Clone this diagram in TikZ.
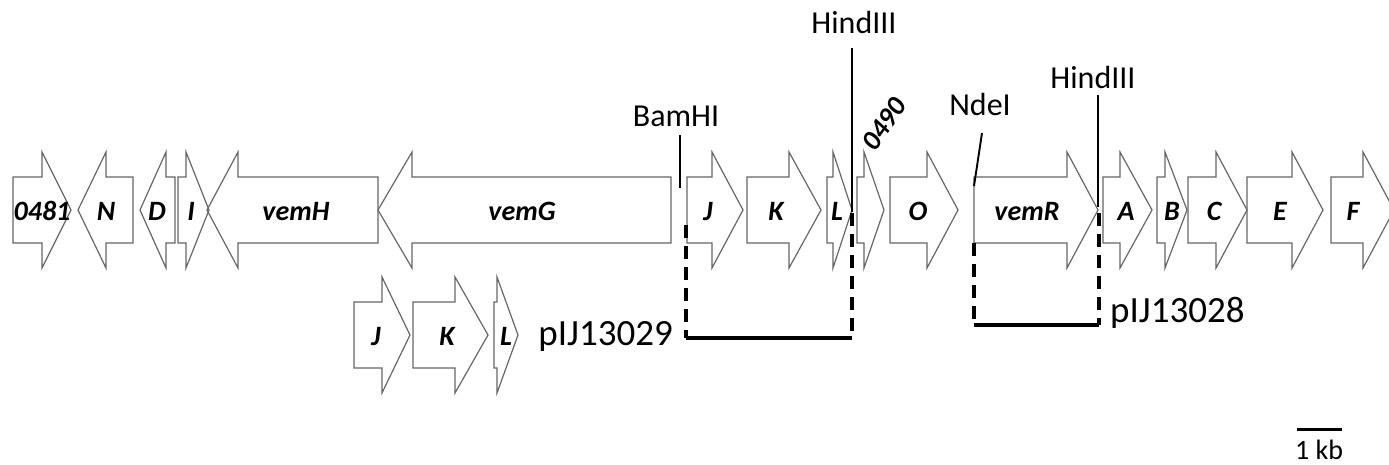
\documentclass[tikz,border=0pt]{standalone}
\usepackage{fontspec}
\setmainfont{Carlito}
\tikzset{
  gene/.style={draw=black!60, line width=1.2pt, line join=miter},
  glabel/.style={font=\fontsize{28}{30}\selectfont\bfseries\itshape, anchor=base, inner sep=0pt},
  site/.style={font=\fontsize{32}{34}\selectfont, anchor=base, inner sep=0pt},
  plabel/.style={font=\fontsize{37}{40}\selectfont, anchor=base, inner sep=0pt},
  cutline/.style={line width=1.9pt},
  frag/.style={line width=3.2pt},
  fragdash/.style={line width=3.2pt, dash pattern=on 13pt off 8pt},
}
% #1 tail x, #2 head-base x, #3 tip x, #4 centre y
\newcommand\geneshape[4]{%
  \draw[gene] (#1,#4-33) -- (#2,#4-33) -- (#2,#4-58) -- (#3,#4) -- (#2,#4+58) -- (#2,#4+33) -- (#1,#4+33) -- cycle;}
\begin{document}
\begin{tikzpicture}[x=1pt,y=-1pt]
\useasboundingbox (0,0) rectangle (1389,464);
% ---- main row
\geneshape{13}{42}{71}{210}     \node[glabel] (g0481) at (42,220) {0481};
\geneshape{133}{106}{78}{210}   \node[glabel] (gN) at (106,220) {N};
\geneshape{175}{166}{140}{210}  \node[glabel] (gD) at (157,220) {D};
\geneshape{178}{186}{209}{210}  \node[glabel] (gI) at (191,220) {I};
\geneshape{378}{238}{207}{210}  \node[glabel] (gvemH) at (296,220) {vemH};
\geneshape{671}{412}{378}{210}  \node[glabel] (gvemG) at (522,220) {vemG};
\geneshape{687}{712}{743}{210}  \node[glabel] (gJ) at (708,220) {J};
\geneshape{747}{789}{821}{210}  \node[glabel] (gK) at (776,220) {K};
\geneshape{827}{833}{852}{210}  \node[glabel] (gL) at (837,220) {L};
\geneshape{857}{864}{884}{210}  \node[glabel, anchor=center, rotate=55] (g0490) at (884,124) {0490};
\geneshape{890}{927}{958}{210}  \node[glabel] (gO) at (918,220) {O};
\geneshape{974}{1067}{1098}{210} \node[glabel] (gvemR) at (1027,220) {vemR};
\geneshape{1103}{1120}{1152}{210} \node[glabel] (gA) at (1126,220) {A};
\geneshape{1157}{1165}{1187}{210} \node[glabel] (gB) at (1172,220) {B};
\geneshape{1188}{1216}{1247}{210} \node[glabel] (gC) at (1214,220) {C};
\geneshape{1247}{1292}{1323}{210} \node[glabel] (gE) at (1280,220) {E};
\geneshape{1331}{1363}{1394}{210} \node[glabel] (gF) at (1353,220) {F};
% ---- lower row (pIJ13029 insert)
\geneshape{354}{382}{410}{335}  \node[glabel] (hJ) at (376,345) {J};
\geneshape{413}{455}{488}{335}  \node[glabel] (hK) at (447,345) {K};
\geneshape{494}{497}{518}{335}  \node[glabel] (hL) at (506,345) {L};
% ---- restriction sites
\node[site] (bam) at (676,126) {BamHI};
\coordinate (bamA) at (680,135); \coordinate (bamB) at (680,188);
\draw[cutline] (bamA) -- (bamB);
\node[site] (hind1) at (854,33) {HindIII};
\coordinate (h1A) at (852,48); \coordinate (h1B) at (852,212);
\draw[cutline] (h1A) -- (h1B);
\node[site] (nde) at (980,115) {NdeI};
\coordinate (ndA) at (982,133); \coordinate (ndB) at (974,186);
\draw[cutline] (ndA) -- (ndB);
\node[site] (hind2) at (1093,88) {HindIII};
\coordinate (h2A) at (1098,95); \coordinate (h2B) at (1098,207);
\draw[cutline] (h2A) -- (h2B);
% ---- pIJ13029 fragment
\coordinate (f1a) at (686,225); \coordinate (f1b) at (686,338);
\coordinate (f1c) at (852,338); \coordinate (f1d) at (852,213);
\draw[fragdash] (f1a) -- (f1b);
\draw[fragdash] (f1d) -- (f1c);
\draw[frag] (f1b) -- (f1c);
\node[plabel, anchor=base east] (p29) at (673,345) {pIJ13029};
% ---- pIJ13028 fragment
\coordinate (f2a) at (974,243); \coordinate (f2b) at (974,325);
\coordinate (f2c) at (1099,325); \coordinate (f2d) at (1099,213);
\draw[fragdash] (f2a) -- (f2b);
\draw[fragdash] (f2d) -- (f2c);
\draw[frag] (f2b) -- (f2c);
\node[plabel, anchor=base west] (p28) at (1110,322) {pIJ13028};
% ---- scale bar
\coordinate (sbA) at (1297,429); \coordinate (sbB) at (1342,429);
\draw[line width=3pt] (sbA) -- (sbB);
\node[font=\fontsize{28}{30}\selectfont, anchor=base, inner sep=0pt] (kb) at (1319,459) {1 kb};
\end{tikzpicture}
\end{document}
